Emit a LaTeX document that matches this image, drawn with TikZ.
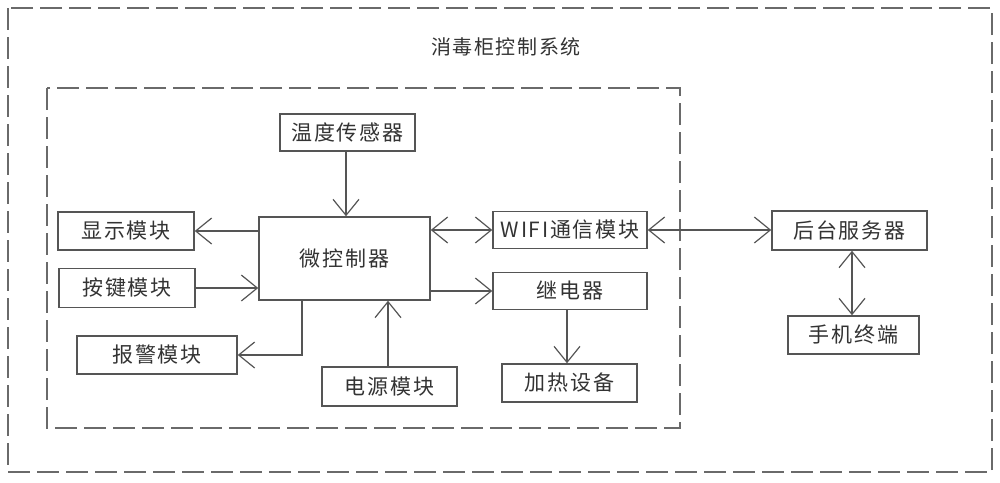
\documentclass[tikz,border=0pt]{standalone}
\usepackage{fontspec}
\setmainfont{Noto Sans CJK SC}[LetterSpace=8]
\usetikzlibrary{arrows.meta}
\definecolor{linegray}{HTML}{555555}
\definecolor{textgray}{HTML}{333333}
\definecolor{dashgray}{HTML}{6A6A6A}
\begin{document}
\begin{tikzpicture}[x=1pt,y=-1pt,
  box/.style={draw=linegray, line width=1.5pt, inner sep=0pt, font=\fontsize{21}{24}\selectfont, text=textgray},
  tip/.tip={Straight Barb[length=16pt,width=26pt,line width=1.2pt]},
  arr/.style={draw=linegray, line width=1.5pt, -tip},
  biarr/.style={draw=linegray, line width=1.5pt, tip-tip},
  frame/.style={draw=dashgray, line width=1.4pt, dash pattern=on 22pt off 7pt}
]
\useasboundingbox (0,0) rectangle (1000,482);
\draw[frame] (8,8) rectangle (992,472);
\draw[frame] (47,88) rectangle (680,428);
\node[font=\fontsize{20}{24}\selectfont, text=textgray] (title) at (506,47) {消毒柜控制系统};

\node[box, minimum width=135pt, minimum height=37pt] (temp) at (347.5,132.5) {温度传感器};
\node[box, minimum width=136pt, minimum height=38pt] (disp) at (126,231) {显示模块};
\node[box, minimum width=136pt, minimum height=39pt] (key) at (127,288) {按键模块};
\node[box, minimum width=171pt, minimum height=83pt] (mcu) at (344.5,258.5) {微控制器};
\node[box, minimum width=154pt, minimum height=37pt] (wifi) at (570,230) {WIFI通信模块};
\node[box, minimum width=154pt, minimum height=37pt] (relay) at (570,291) {继电器};
\node[box, minimum width=155pt, minimum height=39pt] (server) at (849.5,230.5) {后台服务器};
\node[box, minimum width=131pt, minimum height=38pt] (phone) at (853.5,335) {手机终端};
\node[box, minimum width=135pt, minimum height=38pt] (heat) at (569.5,383) {加热设备};
\node[box, minimum width=160pt, minimum height=38pt] (alarm) at (157,355) {报警模块};
\node[box, minimum width=135pt, minimum height=39pt] (power) at (389.5,386.5) {电源模块};

\draw[arr] ([xshift=-1.5pt]temp.south) -- ([xshift=-1.5pt]temp.south |- mcu.north);
\draw[arr] (mcu.west |- disp.east) -- (disp.east);
\draw[arr] (key.east) -- (key.east -| mcu.west);
\draw[biarr] (mcu.east |- wifi.west) -- (wifi.west);
\draw[arr] (mcu.east |- relay.west) -- (relay.west);
\draw[biarr] (wifi.east) -- (wifi.east -| server.west);
\draw[biarr] ([xshift=-1.5pt]phone.north |- server.south) -- ([xshift=-1.5pt]phone.north);
\draw[arr] ([xshift=-3pt]relay.south) -- ([xshift=-3pt]relay.south |- heat.north);
\draw[arr] ([xshift=-42.5pt]mcu.south) |- (alarm.east);
\draw[arr] ([xshift=-1.5pt]power.north) -- ([xshift=-1.5pt]power.north |- mcu.south);
\end{tikzpicture}
\end{document}
